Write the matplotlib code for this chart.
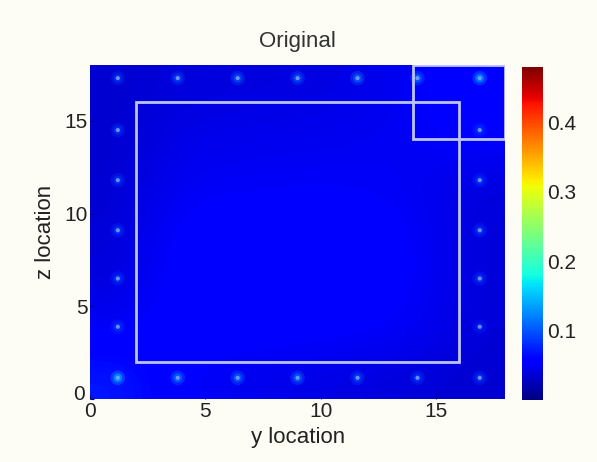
import numpy as np
import matplotlib.pyplot as plt
import matplotlib.transforms as mtrans
from matplotlib.patches import Rectangle

# background field, rows from top (z=18) to bottom (z=0)
field = np.array([
    [0.034, 0.039, 0.040, 0.041, 0.043, 0.050, 0.062],
    [0.034, 0.045, 0.046, 0.047, 0.048, 0.052, 0.056],
    [0.035, 0.049, 0.051, 0.052, 0.052, 0.049, 0.040],
    [0.037, 0.057, 0.059, 0.059, 0.058, 0.054, 0.038],
    [0.039, 0.059, 0.061, 0.060, 0.059, 0.054, 0.038],
    [0.050, 0.058, 0.059, 0.058, 0.056, 0.052, 0.037],
    [0.072, 0.054, 0.047, 0.044, 0.041, 0.038, 0.035],
])

# sensor spots round the border
sensor_y = [1.2, 3.8, 6.4, 9.0, 11.6, 14.2, 16.9,
            1.2, 3.8, 6.4, 9.0, 11.6, 14.2, 16.9,
            1.2, 1.2, 1.2, 1.2, 1.2,
            16.9, 16.9, 16.9, 16.9, 16.9]
sensor_z = [17.3, 17.3, 17.3, 17.3, 17.3, 17.3, 17.3,
            1.15, 1.15, 1.15, 1.15, 1.15, 1.15, 1.15,
            3.9, 6.5, 9.1, 11.8, 14.5,
            3.9, 6.5, 9.1, 11.8, 14.5]
sensor_val = [0.09, 0.10, 0.11, 0.11, 0.12, 0.12, 0.15,
              0.16, 0.13, 0.12, 0.12, 0.10, 0.09, 0.09,
              0.09, 0.09, 0.09, 0.09, 0.09,
              0.08, 0.09, 0.09, 0.09, 0.09]

# boxes: (y0, z0, width, height)
boxes = [(2, 2, 14, 14), (14, 14, 4, 4)]

vmin, vmax = 0.0, 0.48
bg = '#fdfdf6'

fig = plt.figure(figsize=(5.97, 4.62), dpi=100, facecolor=bg)
ax = fig.add_axes([0.151, 0.136, 0.695, 0.723])
cax = fig.add_axes([0.874, 0.134, 0.035, 0.721])

im = ax.imshow(field, cmap='jet', vmin=vmin, vmax=vmax, extent=[0, 18, 0, 18],
               origin='upper', aspect='auto', interpolation='bicubic')
# soft glow then core for each spot
ax.scatter(sensor_y, sensor_z, c=sensor_val, cmap='jet', vmin=vmin, vmax=vmax,
           s=110, alpha=0.25, edgecolors='none')
ax.scatter(sensor_y, sensor_z, c=sensor_val, cmap='jet', vmin=vmin, vmax=vmax,
           s=40, alpha=0.45, edgecolors='none')
ax.scatter(sensor_y, sensor_z, c='#8aa8ff', s=9, alpha=0.8, edgecolors='none')

for (x0, z0, w, h) in boxes:
    ax.add_patch(Rectangle((x0, z0), w, h, fill=False, edgecolor='#bcc4ff', lw=2))

ax.set_xlim(0, 18)
ax.set_ylim(0, 18)
ax.set_xticks([0, 5, 10, 15])
ax.set_yticks([0, 5, 10, 15])
ax.tick_params(direction='in', length=3, labelsize=15, color='#000080',
               labelcolor='#222222', pad=2)
for s in ax.spines.values():
    s.set_visible(False)

font = 'Liberation Sans'
for lbl in ax.get_xticklabels() + ax.get_yticklabels():
    lbl.set_family(font)
# nudge the y "0" up and left a bit, like the reference
ylbl0 = ax.get_yticklabels()[0]
ylbl0.set_transform(ylbl0.get_transform() +
                    mtrans.ScaledTranslation(-2 / 72, 5 / 72, fig.dpi_scale_trans))

ax.set_xlabel('y location', fontsize=16, family=font, labelpad=4, color='#222222')
ax.set_ylabel('z location', fontsize=16, family=font, labelpad=6, color='#222222')
ax.set_title('Original', fontsize=16, family=font, pad=13, color='#333333')

cb = fig.colorbar(im, cax=cax)
cb.set_ticks([0.1, 0.2, 0.3, 0.4])
cb.ax.tick_params(length=0, labelsize=15, labelcolor='#222222', pad=3)
for lbl in cb.ax.get_yticklabels():
    lbl.set_family(font)
cb.outline.set_visible(False)

fig.savefig('out.png', dpi=100, facecolor=bg)
